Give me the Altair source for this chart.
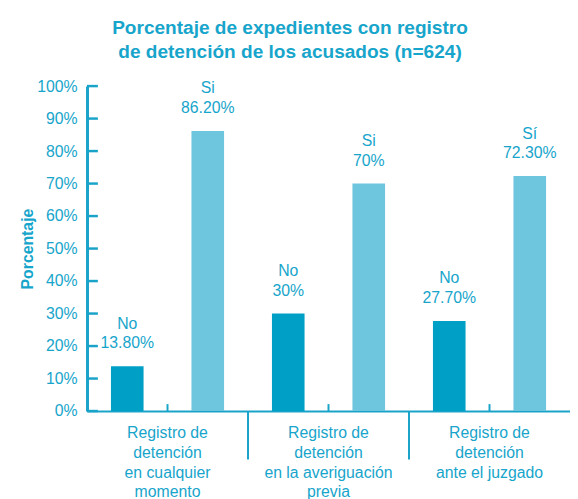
import altair as alt
import pandas as pd

categories = [
    "Registro de\ndetención\nen cualquier\nmomento",
    "Registro de\ndetención\nen la averiguación\nprevia",
    "Registro de\ndetención\nante el juzgado",
]
responses = ["No", "Si"]
no_values = [13.8, 30.0, 27.7]
si_values = [86.2, 70.0, 72.3]
no_labels = ["No", "No", "No"]
si_labels = ["Si", "Si", "Sí"]
no_pct_text = ["13.80%", "30%", "27.70%"]
si_pct_text = ["86.20%", "70%", "72.30%"]
y_ticks = [0, 10, 20, 30, 40, 50, 60, 70, 80, 90, 100]

TEXT = "#17a5cb"
AXIS = "#1aa3c9"
NO_COLOR = "#00a0c6"
SI_COLOR = "#6dc5de"
FONT = "Liberation Sans"

rows = []
for i, c in enumerate(categories):
    rows.append({"cat": c, "resp": "No", "value": no_values[i],
                 "label": no_labels[i] + "\n" + no_pct_text[i]})
    rows.append({"cat": c, "resp": "Si", "value": si_values[i],
                 "label": si_labels[i] + "\n" + si_pct_text[i]})
df = pd.DataFrame(rows)
ticks_df = pd.DataFrame({"value": y_ticks})
cat_df = pd.DataFrame({"cat": categories})
sep_df = pd.DataFrame({"cat": categories[1:]})

H = 329
xscale = alt.Scale(domain=categories, paddingInner=0, paddingOuter=0)
yscale = alt.Scale(domain=[0, 100], nice=False)
offscale = alt.Scale(domain=responses, paddingInner=0.595, paddingOuter=0.2975)

x_axis = alt.Axis(
    labelAngle=0, ticks=False, labelExpr="split(datum.label, '\\n')",
    labelFont=FONT, labelFontSize=16, labelColor=TEXT, labelLineHeight=20,
    labelPadding=14, domainColor=AXIS, domainWidth=2, labelLimit=300,
)
y_axis = alt.Axis(
    values=y_ticks, labelExpr="datum.value + '%'", labelOverlap=False,
    ticks=False, grid=False, labelFont=FONT, labelFontSize=16,
    labelColor=TEXT, labelPadding=10, domainColor=AXIS, domainWidth=3,
    titleFont=FONT, titleFontSize=16, titleFontWeight="bold",
    titleColor=TEXT, titlePadding=1,
)


def xe(**kw):
    return alt.X("cat:N", scale=xscale, sort=categories, title=None, axis=x_axis, **kw)


def ye():
    return alt.Y("value:Q", scale=yscale, title="Porcentaje", axis=y_axis)


bars = alt.Chart(df).mark_bar().encode(
    x=xe(),
    xOffset=alt.XOffset("resp:N", sort=responses, scale=offscale),
    y=ye(),
    color=alt.Color("resp:N", scale=alt.Scale(domain=responses, range=[NO_COLOR, SI_COLOR]), legend=None),
)

labels = alt.Chart(df).mark_text(
    baseline="bottom", dy=-35, font=FONT, fontSize=16, color=TEXT,
    lineBreak="\n", lineHeight=20,
).encode(
    x=xe(),
    xOffset=alt.XOffset("resp:N", sort=responses, scale=offscale),
    y=ye(),
    text="label:N",
)

yticks = alt.Chart(ticks_df).mark_rule(color=AXIS, strokeWidth=2.5).encode(
    y=ye(),
    x=alt.value(0),
    x2=alt.value(11),
)

mid_ticks = alt.Chart(cat_df).mark_rule(color=AXIS, strokeWidth=2).encode(
    x=xe(),
    y=alt.value(H - 7),
    y2=alt.value(H),
)

separators = alt.Chart(sep_df).mark_rule(color=AXIS, strokeWidth=2).encode(
    x=xe(bandPosition=0),
    y=alt.value(H),
    y2=alt.value(H + 49),
)

chart = alt.layer(bars, labels, yticks, mid_ticks, separators).properties(
    width=489,
    height=H,
    title=alt.TitleParams(
        ["Porcentaje de expedientes con registro", "de detención de los acusados (n=624)"],
        font=FONT, fontSize=19.3, fontWeight="bold", color=TEXT, lineHeight=24,
        anchor="middle", dx=-39, offset=16,
    ),
    autosize=alt.AutoSizeParams(type="none"),
    padding={"left": 80, "top": 76, "right": 0, "bottom": 86},
).configure_view(stroke=None)

chart.save("out.html", embed_options={"renderer": "svg", "actions": False})
